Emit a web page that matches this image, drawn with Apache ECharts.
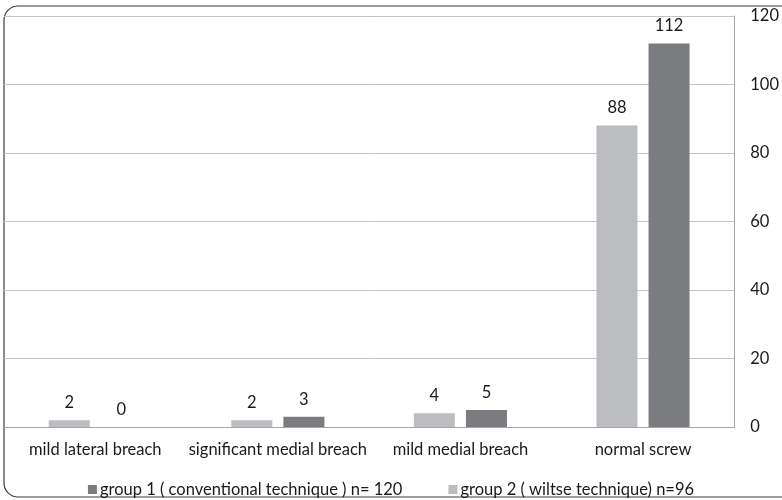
<!DOCTYPE html>
<html><head><meta charset="utf-8">
<script src="https://cdn.jsdelivr.net/npm/echarts@6/dist/echarts.min.js"></script>
<style>html,body{margin:0;padding:0;background:#fff}#c{width:782px;height:500px}</style>
</head><body><div id="c"></div>
<script>
const categories = ["mild lateral breach", "significant medial breach", "mild medial breach", "normal screw"];
const group2Values = [2, 2, 4, 88];
const group1Values = [0, 3, 5, 112];
const group1Name = "group 1 ( conventional technique ) n= 120";
const group2Name = "group 2 ( wiltse technique) n=96";
const yTicks = [0, 20, 40, 60, 80, 100, 120];

const font = "Lato";
const fs = 16.5;
const chart = echarts.init(document.getElementById('c'), null, {renderer: 'canvas'});
chart.setOption({
  animation: false,
  textStyle: {fontFamily: font},
  graphic: [{
    type: 'rect', silent: true,
    shape: {x: 4, y: 6, width: 810, height: 491, r: 14},
    style: {fill: 'none', stroke: '#3a3a3a', lineWidth: 1.2}
  }],
  grid: {left: 4, right: 43, top: 16, bottom: 73, containLabel: false},
  legend: {
    data: [group1Name, group2Name],
    bottom: -3, left: 'center',
    itemWidth: 9, itemHeight: 9, itemGap: 46,
    icon: 'rect',
    textStyle: {fontFamily: font, fontSize: fs, color: '#1a1a1a', padding: [0, 0, 0, -2]}
  },
  xAxis: {
    type: 'category', data: categories,
    axisLine: {lineStyle: {color: '#a6a6a6'}},
    axisTick: {show: false},
    axisLabel: {fontFamily: font, fontSize: fs, color: '#1a1a1a', margin: 14, interval: 0}
  },
  yAxis: {
    type: 'value', position: 'right', min: yTicks[0], max: yTicks[yTicks.length - 1], interval: 20,
    axisLine: {show: true, lineStyle: {color: '#a6a6a6'}},
    axisTick: {show: false},
    axisLabel: {fontFamily: font, fontSize: fs, color: '#1a1a1a', margin: 16},
    splitLine: {lineStyle: {color: '#c4c4c4'}}
  },
  series: [
    {name: group2Name, type: 'bar', data: group2Values, barWidth: 41, barGap: '27%',
     itemStyle: {color: '#bcbdc1'},
     label: {show: true, position: 'top', distance: 9, fontFamily: font, fontSize: fs, color: '#1a1a1a'}},
    {name: group1Name, type: 'bar', data: group1Values, barWidth: 41,
     itemStyle: {color: '#7b7c80'},
     label: {show: true, position: 'top', distance: 9, fontFamily: font, fontSize: fs, color: '#1a1a1a'}}
  ]
});
</script></body></html>
